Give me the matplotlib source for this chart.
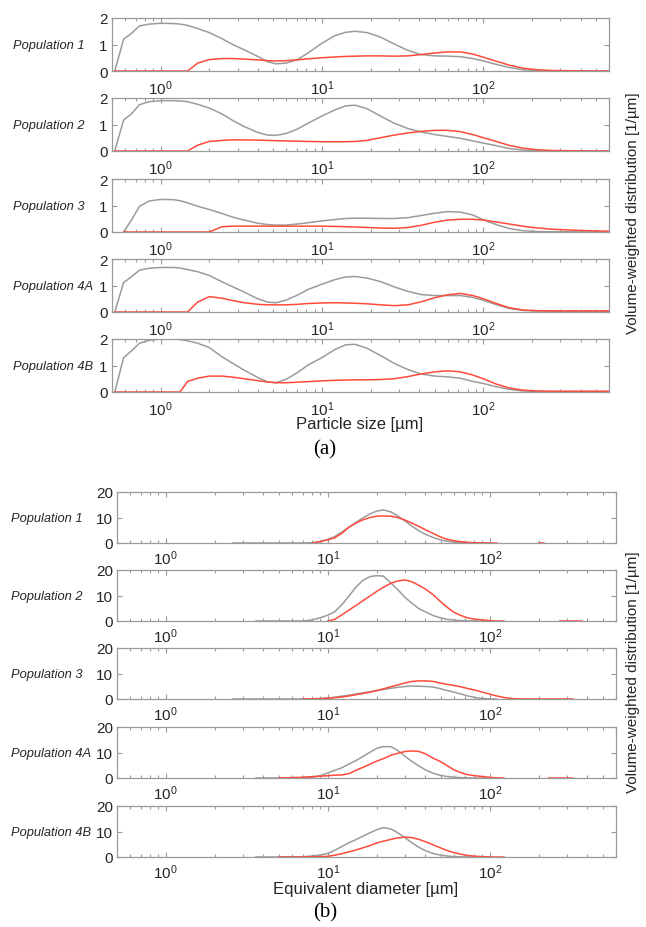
import matplotlib
matplotlib.use('Agg')
import matplotlib.pyplot as plt
import numpy as np
from matplotlib.ticker import LogLocator, NullFormatter

plt.rcParams['font.family'] = ['Liberation Sans', 'DejaVu Sans']
plt.rcParams['mathtext.default'] = 'regular'

nan = np.nan
populations = ['Population 1', 'Population 2', 'Population 3', 'Population 4A', 'Population 4B']

# (a) particle size distributions, grey and red curves per population
xa = [0.52, 0.59, 0.66, 0.74, 0.85, 1.0, 1.2, 1.32, 1.47, 1.7, 2.0, 2.4, 2.8, 3.3, 4.0, 4.6, 5.2, 6.0,
      7.0, 8.2, 10, 12, 14, 16, 19, 23, 28, 34, 41, 50, 60, 72, 86, 100, 120, 145, 175, 210, 260, 330, 430, 600]

a_grey_1 = [0, 1.2, 1.42, 1.7, 1.77, 1.8, 1.79, 1.77, 1.72, 1.6, 1.45, 1.22, 1.0, 0.8, 0.55, 0.35, 0.27, 0.3,
            0.42, 0.68, 1.05, 1.33, 1.46, 1.5, 1.45, 1.28, 1.02, 0.78, 0.62, 0.57, 0.56, 0.54, 0.47, 0.38, 0.25,
            0.13, 0.05, 0.015, 0, 0, 0, 0]
a_red_1 = [0, 0, 0, 0, 0, 0, 0, 0, 0, 0.3, 0.43, 0.47, 0.47, 0.45, 0.42, 0.39, 0.38, 0.39,
           0.42, 0.46, 0.5, 0.53, 0.55, 0.56, 0.57, 0.57, 0.56, 0.57, 0.62, 0.68, 0.72, 0.72, 0.64, 0.52, 0.37,
           0.22, 0.11, 0.05, 0.02, 0.01, 0, 0]

a_grey_2 = [0, 1.17, 1.4, 1.75, 1.86, 1.9, 1.9, 1.89, 1.86, 1.76, 1.62, 1.4, 1.15, 0.92, 0.7, 0.6, 0.59, 0.66,
            0.82, 1.05, 1.32, 1.55, 1.7, 1.73, 1.6, 1.32, 1.05, 0.85, 0.72, 0.62, 0.55, 0.48, 0.38, 0.3, 0.2,
            0.09, 0.04, 0.01, 0, 0, 0, 0]
a_red_2 = [0, 0, 0, 0, 0, 0, 0, 0, 0, 0.22, 0.36, 0.4, 0.42, 0.42, 0.41, 0.4, 0.39, 0.38,
           0.37, 0.36, 0.35, 0.35, 0.35, 0.36, 0.4, 0.5, 0.6, 0.68, 0.74, 0.78, 0.78, 0.73, 0.62, 0.5, 0.36,
           0.21, 0.11, 0.05, 0.02, 0.01, 0, 0]

a_grey_3 = [nan, 0, 0.45, 0.97, 1.17, 1.23, 1.22, 1.18, 1.1, 0.97, 0.85, 0.7, 0.56, 0.45, 0.33, 0.28, 0.26, 0.26,
            0.3, 0.35, 0.42, 0.47, 0.51, 0.52, 0.52, 0.51, 0.51, 0.54, 0.62, 0.71, 0.77, 0.75, 0.64, 0.46, 0.28,
            0.13, 0.05, 0.02, 0.01, 0.01, 0, 0]
a_red_3 = [nan, 0, 0, 0, 0, 0, 0, 0, 0, 0, 0, 0.2, 0.22, 0.22, 0.22, 0.22, 0.22, 0.22,
           0.22, 0.22, 0.22, 0.21, 0.2, 0.19, 0.17, 0.15, 0.14, 0.17, 0.25, 0.37, 0.45, 0.48, 0.48, 0.45, 0.38,
           0.3, 0.22, 0.16, 0.11, 0.08, 0.05, 0.03]

a_grey_4a = [0, 1.11, 1.33, 1.58, 1.65, 1.68, 1.68, 1.66, 1.6, 1.52, 1.38, 1.14, 0.95, 0.75, 0.5, 0.37, 0.35, 0.45,
             0.63, 0.85, 1.05, 1.22, 1.32, 1.34, 1.28, 1.15, 0.95, 0.78, 0.66, 0.62, 0.62, 0.62, 0.55, 0.44, 0.28,
             0.13, 0.06, 0.04, 0.03, 0.03, 0.03, 0.03]
a_red_4a = [0, 0, 0, 0, 0, 0, 0, 0, 0, 0.38, 0.58, 0.52, 0.43, 0.35, 0.29, 0.27, 0.27, 0.27,
            0.29, 0.32, 0.34, 0.35, 0.34, 0.33, 0.31, 0.27, 0.24, 0.27, 0.38, 0.54, 0.65, 0.7, 0.62, 0.5, 0.32,
            0.16, 0.08, 0.05, 0.04, 0.04, 0.04, 0.04]

a_grey_4b = [0, 1.29, 1.55, 1.84, 1.95, 2.0, 2.0, 1.98, 1.93, 1.84, 1.68, 1.33, 1.08, 0.82, 0.55, 0.38, 0.35, 0.48,
             0.72, 1.02, 1.3, 1.6, 1.78, 1.8, 1.65, 1.38, 1.08, 0.85, 0.68, 0.6, 0.57, 0.52, 0.4, 0.32, 0.2,
             0.1, 0.04, 0.02, 0.01, 0.01, 0.01, 0.01]
a_red_4b = [0, 0, 0, 0, 0, 0, 0, 0, 0.4, 0.52, 0.6, 0.6, 0.56, 0.5, 0.43, 0.38, 0.35, 0.35,
            0.37, 0.39, 0.42, 0.44, 0.45, 0.46, 0.46, 0.47, 0.5, 0.58, 0.68, 0.76, 0.8, 0.76, 0.64, 0.5, 0.3,
            0.15, 0.07, 0.04, 0.03, 0.03, 0.03, 0.03]

# (b) equivalent diameter distributions
xb = [2.6, 3.6, 5.0, 7.0, 8.0, 9.0, 10, 11, 12.2, 13.5, 15, 16.5, 18.2, 20, 22, 24.5, 27, 30, 33, 36.5,
      40, 44.5, 49, 54, 60, 66, 73, 81, 90, 100, 110, 122, 135, 150, 200, 215, 230, 270, 325, 370]

b_grey_1 = [0, 0, 0, 0, 0.1, 0.6, 1.4, 2.5, 4.3, 6.2, 8.2, 9.9, 11.4, 12.5, 13.0, 12.2, 10.6, 8.6, 6.6, 4.8,
            3.4, 2.2, 1.3, 0.7, 0.35, 0.15, 0.05, 0, 0, 0, nan, nan, nan, nan, nan, nan, nan, nan, nan, nan]
b_red_1 = [nan, nan, nan, nan, 0, 0.6, 1.3, 2.0, 3.8, 6.2, 7.9, 9.1, 10.0, 10.5, 10.6, 10.5, 10.0, 9.0, 7.8, 6.5,
           5.2, 3.8, 2.5, 1.5, 0.9, 0.5, 0.25, 0.1, 0.05, 0, 0, nan, nan, nan, 0, 0, nan, nan, nan, nan]

b_grey_2 = [nan, 0, 0, 0, 0.4, 1.3, 2.3, 3.6, 6.4, 9.8, 13.5, 16.0, 17.4, 17.8, 17.6, 14.9, 12.3, 9.2, 7.0, 4.8,
            3.6, 2.2, 1.3, 0.7, 0.35, 0.15, 0.05, 0, 0, 0, nan, nan, nan, nan, nan, nan, nan, nan, nan, nan]
b_red_2 = [nan, nan, nan, nan, nan, nan, 0, 0.6, 2.4, 4.3, 6.2, 8.0, 9.8, 11.6, 13.2, 14.8, 15.7, 16.1, 15.4, 14.0,
           12.5, 10.4, 7.9, 5.6, 3.4, 2.2, 1.2, 0.7, 0.4, 0.15, 0, 0, nan, nan, nan, nan, nan, 0, 0, 0]

b_grey_3 = [0, 0, 0, 0, 0.05, 0.2, 0.4, 0.7, 1.1, 1.5, 2.0, 2.4, 2.8, 3.3, 3.7, 4.2, 4.6, 4.9, 5.1, 5.0,
            4.9, 4.7, 4.1, 3.4, 2.7, 2.0, 1.2, 0.6, 0.2, 0, 0, nan, nan, nan, nan, nan, nan, nan, nan, nan]
b_red_3 = [nan, nan, nan, 0, 0.05, 0.15, 0.3, 0.5, 0.8, 1.2, 1.7, 2.2, 2.7, 3.3, 4.0, 4.8, 5.5, 6.3, 6.9, 7.1,
           7.1, 6.9, 6.3, 5.8, 5.3, 4.8, 4.1, 3.5, 2.7, 1.9, 1.2, 0.6, 0.2, 0.05, 0, 0, 0, 0, 0, nan]

b_grey_4a = [nan, 0, 0, 0.1, 0.4, 0.9, 2.0, 3.0, 4.0, 5.5, 6.9, 8.5, 10.1, 11.6, 12.3, 12.3, 10.8, 8.5, 6.5, 4.7,
             3.2, 1.9, 1.1, 0.6, 0.3, 0.15, 0.05, 0, 0, 0, nan, nan, nan, nan, nan, nan, nan, nan, nan, nan]
b_red_4a = [nan, nan, 0, 0.3, 0.5, 0.7, 0.9, 1.1, 1.2, 1.7, 3.1, 4.2, 5.4, 6.6, 7.6, 8.9, 9.7, 10.4, 10.6, 10.4,
            9.5, 7.8, 6.6, 5.0, 3.2, 2.1, 1.3, 0.9, 0.55, 0.25, 0.08, 0, nan, nan, nan, nan, 0, 0, 0, nan]

b_grey_4b = [nan, 0, 0, 0.1, 0.4, 0.8, 1.4, 2.6, 4.1, 5.6, 6.9, 8.2, 9.5, 10.7, 11.5, 11.0, 9.5, 7.5, 5.6, 3.8,
             2.5, 1.4, 0.8, 0.4, 0.15, 0.05, 0, 0, 0, 0, nan, nan, nan, nan, nan, nan, nan, nan, nan, nan]
b_red_4b = [nan, nan, 0, 0.05, 0.1, 0.15, 0.26, 0.7, 1.3, 2.0, 2.8, 3.6, 4.5, 5.5, 6.2, 6.9, 7.5, 7.8, 7.6, 6.9,
            6.0, 4.8, 3.7, 2.6, 1.7, 1.1, 0.6, 0.3, 0.13, 0.05, 0, 0, nan, nan, nan, nan, nan, nan, nan, nan]

a_grey = [a_grey_1, a_grey_2, a_grey_3, a_grey_4a, a_grey_4b]
a_red = [a_red_1, a_red_2, a_red_3, a_red_4a, a_red_4b]
b_grey = [b_grey_1, b_grey_2, b_grey_3, b_grey_4a, b_grey_4b]
b_red = [b_red_1, b_red_2, b_red_3, b_red_4a, b_red_4b]

GREY = '#9b9b9b'
RED = '#ff4a3a'
SPINE = '#9a9a9a'
TXT = '#262626'

W, H = 646, 928
fig = plt.figure(figsize=(W / 100, H / 100), dpi=100)


def make_axes(left, width, top, height):
    return fig.add_axes([left / W, 1 - (top + height) / H, width / W, height / H])


def style(ax, yticks, xpad):
    ax.set_xscale('log')
    ax.set_xlim(0.5, 600)
    ax.set_ylim(yticks[0], yticks[-1])
    ax.set_yticks(yticks)
    ax.xaxis.set_major_locator(LogLocator(base=10, numticks=10))
    ax.xaxis.set_minor_locator(LogLocator(base=10, subs=np.arange(2, 10), numticks=20))
    ax.xaxis.set_minor_formatter(NullFormatter())
    for s in ax.spines.values():
        s.set_color(SPINE)
        s.set_linewidth(0.9)
    ax.tick_params(which='both', direction='in', top=True, right=True, color=SPINE, width=0.8)
    ax.tick_params(which='major', length=3.5)
    ax.tick_params(which='minor', length=2)
    ax.tick_params(axis='x', which='major', labelsize=11, pad=xpad, labelcolor=TXT)
    ax.tick_params(axis='y', labelsize=11, pad=3, labelcolor=TXT)


a_tops = [19, 99, 180, 260, 340]
b_tops = [493, 571, 649, 728, 807]

for i, name in enumerate(populations):
    ax = make_axes(112, 497, a_tops[i], 53)
    ax.plot(xa, a_grey[i], color=GREY, lw=1.1)
    ax.plot(xa, a_red[i], color=RED, lw=1.1)
    style(ax, [0, 1, 2], 5.5)
    fig.text(13 / W, 1 - (a_tops[i] + 27) / H, name, style='italic', fontsize=9.3,
             ha='left', va='center', color=TXT)

    ax = make_axes(117, 499, b_tops[i], 51)
    ax.plot(xb, b_grey[i], color=GREY, lw=1.1)
    ax.plot(xb, b_red[i], color=RED, lw=1.1)
    style(ax, [0, 10, 20], 4.0)
    fig.text(11 / W, 1 - (b_tops[i] + 26) / H, name, style='italic', fontsize=9.3,
             ha='left', va='center', color=TXT)

fig.text(360 / W, 1 - 425 / H, 'Particle size [µm]', fontsize=12, ha='center', va='center', color=TXT)
fig.text(366 / W, 1 - 890 / H, 'Equivalent diameter [µm]', fontsize=12, ha='center', va='center', color=TXT)
fig.text(325 / W, 1 - 450 / H, '(a)', fontsize=15, family='Liberation Serif', ha='center', va='center')
fig.text(325 / W, 1 - 913 / H, '(b)', fontsize=15, family='Liberation Serif', ha='center', va='center')
fig.text(633 / W, 1 - 213 / H, 'Volume-weighted distribution [1/µm]', fontsize=11, rotation=90,
         ha='center', va='center', color=TXT)
fig.text(633 / W, 1 - 672 / H, 'Volume-weighted distribution [1/µm]', fontsize=11, rotation=90,
         ha='center', va='center', color=TXT)

fig.savefig('out.png', dpi=100, facecolor='white')
